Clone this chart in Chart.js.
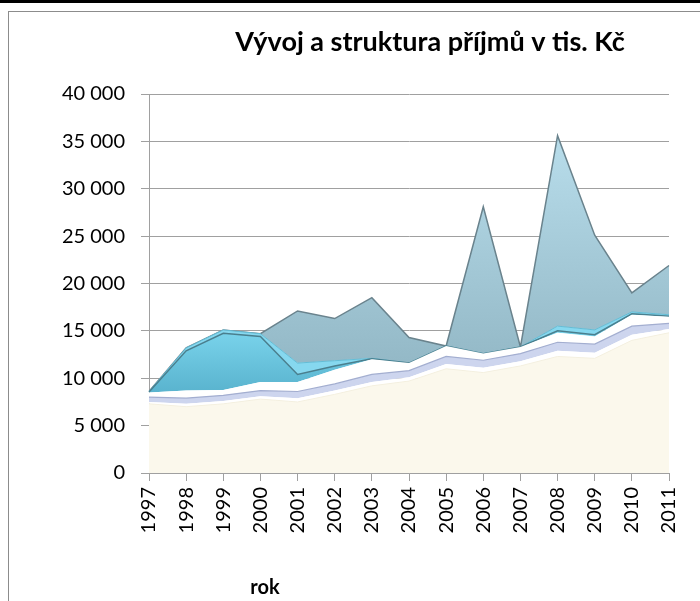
<!DOCTYPE html>
<html>
<head>
<meta charset="utf-8">
<script src="https://cdn.jsdelivr.net/npm/chart.js@4"></script>
<style>
    html, body { margin: 0; padding: 0; background: #fff; overflow: hidden; }
    #wrap { position: relative; width: 700px; height: 601px; overflow: hidden; }
    #topLine { position: absolute; left: 0; top: 0; width: 700px; height: 3px; background: #000; }
    #frame { position: absolute; left: 8px; top: 11px; width: 692px; height: 590px; border-top: 1px solid #8c8c8c; border-left: 1px solid #8c8c8c; }
    #chart { position: absolute; left: 0; top: 0; }
</style>
</head>
<body>
<div id="wrap">
    <div id="topLine"></div>
    <div id="frame"></div>
    <canvas id="chart" width="700" height="601"></canvas>
</div>
<script>
const chartTitle = 'Vývoj a struktura příjmů v tis. Kč';
const axisTitle = 'rok';
const years = ['1997', '1998', '1999', '2000', '2001', '2002', '2003', '2004', '2005', '2006', '2007', '2008', '2009', '2010', '2011'];

// stacked layers, bottom to top (tis. Kč)
const baseLayer = [7300, 7000, 7300, 7800, 7500, 8300, 9200, 9700, 11000, 10600, 11300, 12300, 12100, 14000, 14800];
const whiteLayer1 = [200, 300, 300, 300, 400, 400, 400, 400, 500, 500, 500, 600, 600, 600, 400];
const lavenderLayer = [500, 600, 600, 600, 700, 700, 800, 700, 800, 800, 800, 900, 900, 900, 600];
const whiteLayer2 = [500, 800, 550, 900, 1000, 1500, 1600, 800, 1100, 700, 700, 1000, 800, 1200, 700];
const blueLayer = [50, 4200, 6000, 4800, 800, 400, 50, 0, 0, 0, 0, 200, 200, 100, 50];
const cyanLayer = [50, 300, 350, 300, 1200, 550, 50, 0, 0, 0, 0, 500, 500, 200, 150];
const greyLayer = [0, 0, 0, 0, 5500, 4450, 6400, 2700, 0, 15500, 0, 20100, 10000, 2000, 5200];

const yTicks = { min: 0, max: 40000, step: 5000 };

function vGradient(top, bottom, y0, y1) {
    return function (context) {
        const area = context.chart.chartArea;
        if (!area) return bottom;
        const g = context.chart.ctx.createLinearGradient(0, y0, 0, y1);
        g.addColorStop(0, top);
        g.addColorStop(1, bottom);
        return g;
    };
}

function layer(label, data, fill, bg, border, width) {
    return {
        label: label,
        data: data,
        fill: fill,
        backgroundColor: bg,
        borderColor: border,
        borderWidth: width,
        pointRadius: 0,
        tension: 0
    };
}

function formatThousands(v) {
    return String(v).replace(/\B(?=(\d{3})+(?!\d))/g, ' ');
}

const textPlugin = {
    id: 'texts',
    afterDraw(chart) {
        const ctx = chart.ctx;
        ctx.save();
        ctx.fillStyle = '#000';
        ctx.textAlign = 'center';
        ctx.textBaseline = 'alphabetic';
        ctx.font = 'bold 27px Lato';
        ctx.fillText(chartTitle, 430, 51);
        ctx.font = 'bold 20px Lato';
        ctx.fillText(axisTitle, 265, 594);
        ctx.restore();
    }
};

new Chart(document.querySelector('#chart'), {
    type: 'line',
    data: {
        labels: years,
        datasets: [
            layer('A', baseLayer, 'origin', '#fbf8ec', '#f4f0e0', 1),
            layer('B', whiteLayer1, '-1', '#ffffff', '#ffffff', 0),
            layer('C', lavenderLayer, '-1', '#cdd5ee', '#a3aed0', 1.2),
            layer('D', whiteLayer2, '-1', '#ffffff', '#f2f5fb', 0),
            layer('E', blueLayer, '-1', vGradient('#7ad4ec', '#58b2cd', 330, 395), '#4a7f8e', 1.5),
            layer('F', cyanLayer, '-1', '#86d8ef', '#64bdd6', 1),
            layer('G', greyLayer, '-1', vGradient('#b6dbe9', '#94b9c7', 150, 360), '#6a838d', 1.5)
        ]
    },
    options: {
        responsive: false,
        animation: false,
        layout: { padding: { left: 0, right: 31, top: 94, bottom: 0 } },
        plugins: {
            legend: { display: false },
            tooltip: { enabled: false }
        },
        scales: {
            x: {
                offset: false,
                afterFit: s => { s.height = 128; },
                grid: { drawOnChartArea: false, color: '#a0a0a0', tickLength: 8 },
                border: { color: '#a0a0a0' },
                ticks: {
                    minRotation: 90,
                    maxRotation: 90,
                    padding: 6,
                    color: '#000',
                    font: { family: 'Lato', size: 20 }
                }
            },
            y: {
                stacked: true,
                min: yTicks.min,
                max: yTicks.max,
                afterFit: s => { s.width = 149; },
                grid: { color: '#a0a0a0', tickLength: 8 },
                border: { color: '#a0a0a0' },
                ticks: {
                    stepSize: yTicks.step,
                    padding: 16,
                    color: '#000',
                    font: { family: 'Lato', size: 20 },
                    callback: v => formatThousands(v)
                }
            }
        }
    },
    plugins: [textPlugin]
});
</script>
</body>
</html>
